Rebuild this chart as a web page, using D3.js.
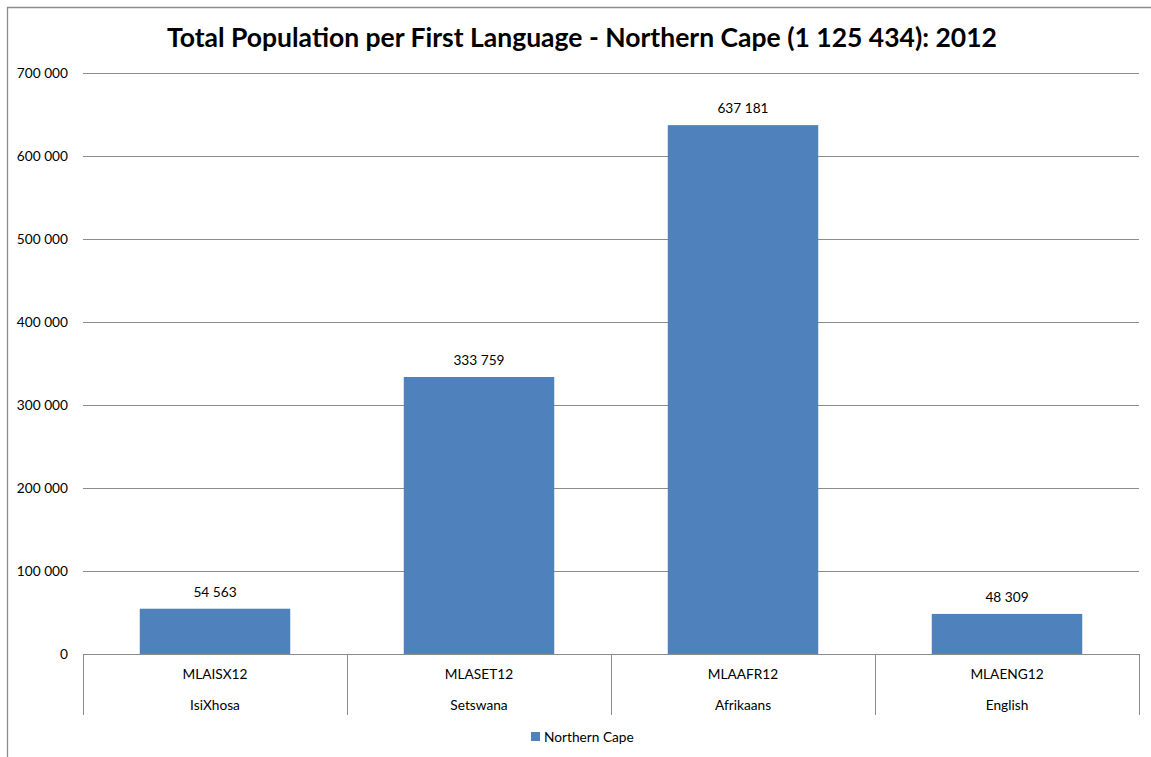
<!DOCTYPE html>
<html><head><meta charset="utf-8">
<script src="https://cdn.jsdelivr.net/npm/d3@7"></script>
<style>body{margin:0;background:#fff}svg{display:block}text{font-family:Lato,"Open Sans",sans-serif;fill:#000}</style>
</head><body><svg id="c" width="1151" height="757"></svg>
<script>
const codes = ["MLAISX12","MLASET12","MLAAFR12","MLAENG12"];
const languages = ["IsiXhosa","Setswana","Afrikaans","English"];
const values = [54563, 333759, 637181, 48309];
const yTicks = [0,100000,200000,300000,400000,500000,600000,700000];
const seriesName = "Northern Cape";
const title = "Total Population per First Language - Northern Cape (1 125 434): 2012";

const svg = d3.select("#c");
const fmt = v => d3.format(",")(v).replace(/,/g," ");
const x = d3.scaleBand().domain(codes).range([83,1139]).paddingInner(0.43).paddingOuter(0.215);
const y = d3.scaleLinear().domain([0,700000]).range([654,73]);
const color = "#4F81BD";
const fs = "13.7px";

// outer border
svg.append("path").attr("d","M7.5,757 V7.5 H1151").attr("fill","none").attr("stroke","#8c8c8c").attr("stroke-width",1.3);

svg.append("text").attr("x",582).attr("y",47).attr("text-anchor","middle")
  .style("font-size","26.5px").style("font-weight","bold").text(title);

// grid
const g = svg.append("g");
g.selectAll("line.grid").data(yTicks.filter(d=>d>0)).join("line")
  .attr("x1",83).attr("x2",1139).attr("y1",d=>Math.round(y(d))+0.5).attr("y2",d=>Math.round(y(d))+0.5)
  .attr("stroke","#8c8c8c").attr("stroke-width",1);
g.selectAll("text.yt").data(yTicks).join("text")
  .attr("x",68).attr("y",d=>y(d)+5).attr("text-anchor","end").style("font-size",fs).text(fmt);

// bars
g.selectAll("rect").data(values).join("rect")
  .attr("x",(d,i)=>x(codes[i])).attr("width",x.bandwidth())
  .attr("y",d=>y(d)).attr("height",d=>y(0)-y(d)).attr("fill",color);
g.selectAll("text.val").data(values).join("text")
  .attr("x",(d,i)=>x(codes[i])+x.bandwidth()/2).attr("y",d=>y(d)-12)
  .attr("text-anchor","middle").style("font-size",fs).text(fmt);

// x axis
g.append("line").attr("x1",83).attr("x2",1139).attr("y1",654.5).attr("y2",654.5).attr("stroke","#8c8c8c");
const step = x.step();
const bounds = d3.range(codes.length+1).map(i=>83+i*step);
g.selectAll("line.div").data(bounds).join("line")
  .attr("x1",d=>Math.round(d)+0.5).attr("x2",d=>Math.round(d)+0.5).attr("y1",654).attr("y2",715).attr("stroke","#8c8c8c");
g.selectAll("text.code").data(codes).join("text")
  .attr("x",d=>x(d)+x.bandwidth()/2).attr("y",679).attr("text-anchor","middle").style("font-size",fs).text(d=>d);
g.selectAll("text.lang").data(languages).join("text")
  .attr("x",(d,i)=>x(codes[i])+x.bandwidth()/2).attr("y",710).attr("text-anchor","middle").style("font-size",fs).text(d=>d);

// legend
svg.append("rect").attr("x",531).attr("y",732).attr("width",9).attr("height",9).attr("fill",color);
svg.append("text").attr("x",544).attr("y",742).style("font-size",fs).text(seriesName);
</script></body></html>
